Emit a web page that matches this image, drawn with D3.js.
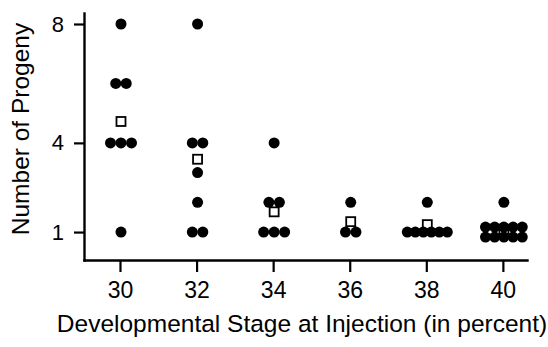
<!DOCTYPE html>
<html>
<head>
<meta charset="utf-8">
<script src="https://cdn.jsdelivr.net/npm/d3@7"></script>
<style>
  html, body { margin: 0; padding: 0; background: #fff; }
  svg { display: block; }
  text { font-family: "Liberation Sans", Arial, Helvetica, sans-serif; fill: #000; }
</style>
</head>
<body>
<svg id="chart" width="548" height="347"></svg>
<script>
// ---- data ----
const stages = [30, 32, 34, 36, 38, 40];
const progeny30 = [8, 6, 6, 4, 4, 4, 1];
const progeny32 = [8, 4, 4, 3, 2, 1, 1];
const progeny34 = [4, 2, 2, 1, 1, 1];
const progeny36 = [2, 1, 1];
const progeny38 = [2, 1, 1, 1, 1, 1, 1];
const progeny40 = [2, 1, 1, 1, 1, 1, 1, 1, 1, 1, 1];
const means = [4.72, 3.45, 1.68, 1.35, 1.25, 1.09];
const yTicks = [1, 4, 8];
const xTicks = [30, 32, 34, 36, 38, 40];
const xTitle = "Developmental Stage at Injection (in percent)";
const yTitle = "Number of Progeny";

const groups = [progeny30, progeny32, progeny34, progeny36, progeny38, progeny40];

// ---- layout ----
const svg = d3.select("#chart");
const x = d3.scaleLinear().domain([29.06, 40.63]).range([84, 527]);
const y = d3.scaleLinear().domain([0.06, 8.37]).range([260, 13]);

// axes
const xAxis = d3.axisBottom(x).tickValues(xTicks).tickSize(12).tickSizeOuter(0).tickPadding(10).tickFormat(d3.format("d"));
const yAxis = d3.axisLeft(y).tickValues(yTicks).tickSize(10).tickSizeOuter(0).tickPadding(10).tickFormat(d3.format("d"));

const gx = svg.append("g").attr("transform", "translate(0,260)").call(xAxis);
gx.selectAll("text").style("font-size", "23px");
const gy = svg.append("g").attr("transform", "translate(84,0)").call(yAxis);
gy.selectAll("text").style("font-size", "22px");
[gx, gy].forEach(g => {
  g.select(".domain").attr("stroke", "#000").attr("stroke-width", 2.4).attr("stroke-linecap", "square");
  g.selectAll(".tick line").attr("stroke", "#000").attr("stroke-width", 2.2);
  g.selectAll("text").attr("fill", "#000").style("font-family", "'Liberation Sans', Arial, sans-serif");
});

// titles
svg.append("text")
  .attr("x", 302).attr("y", 332)
  .attr("text-anchor", "middle")
  .style("font-size", "24.5px")
  .text(xTitle);
svg.append("text")
  .attr("transform", "translate(29,129) rotate(-90)")
  .attr("text-anchor", "middle")
  .style("font-size", "24.5px")
  .text(yTitle);

// build dot positions (stack identical values side by side)
const dots = [];
groups.forEach((vals, gi) => {
  const cx = x(stages[gi]) + 1;
  const counts = d3.rollups(vals, v => v.length, d => d);
  counts.forEach(([val, n]) => {
    if (n > 6) {
      const perRow = Math.ceil(n / 2);
      const sp = 9.2;
      for (let i = 0; i < n; i++) {
        const row = Math.floor(i / perRow), col = i % perRow;
        dots.push({ x: cx + (col - (perRow - 1) / 2) * sp, y: y(val) + (row === 0 ? -5 : 5) });
      }
    } else {
      const sp = n >= 5 ? 8 : 10.5;
      for (let i = 0; i < n; i++) {
        dots.push({ x: cx + (i - (n - 1) / 2) * sp, y: y(val) });
      }
    }
  });
});

// means: open squares (drawn under the dots)
const sq = 9;
svg.append("g").selectAll("rect").data(means).join("rect")
  .attr("x", (d, i) => x(stages[i]) + 1 - sq / 2)
  .attr("y", d => y(d) - sq / 2)
  .attr("width", sq).attr("height", sq)
  .attr("fill", "#fff").attr("stroke", "#000").attr("stroke-width", 1.8);

svg.append("g").selectAll("circle").data(dots).join("circle")
  .attr("cx", d => d.x).attr("cy", d => d.y).attr("r", 5.5)
  .attr("fill", "#000");
</script>
</body>
</html>
